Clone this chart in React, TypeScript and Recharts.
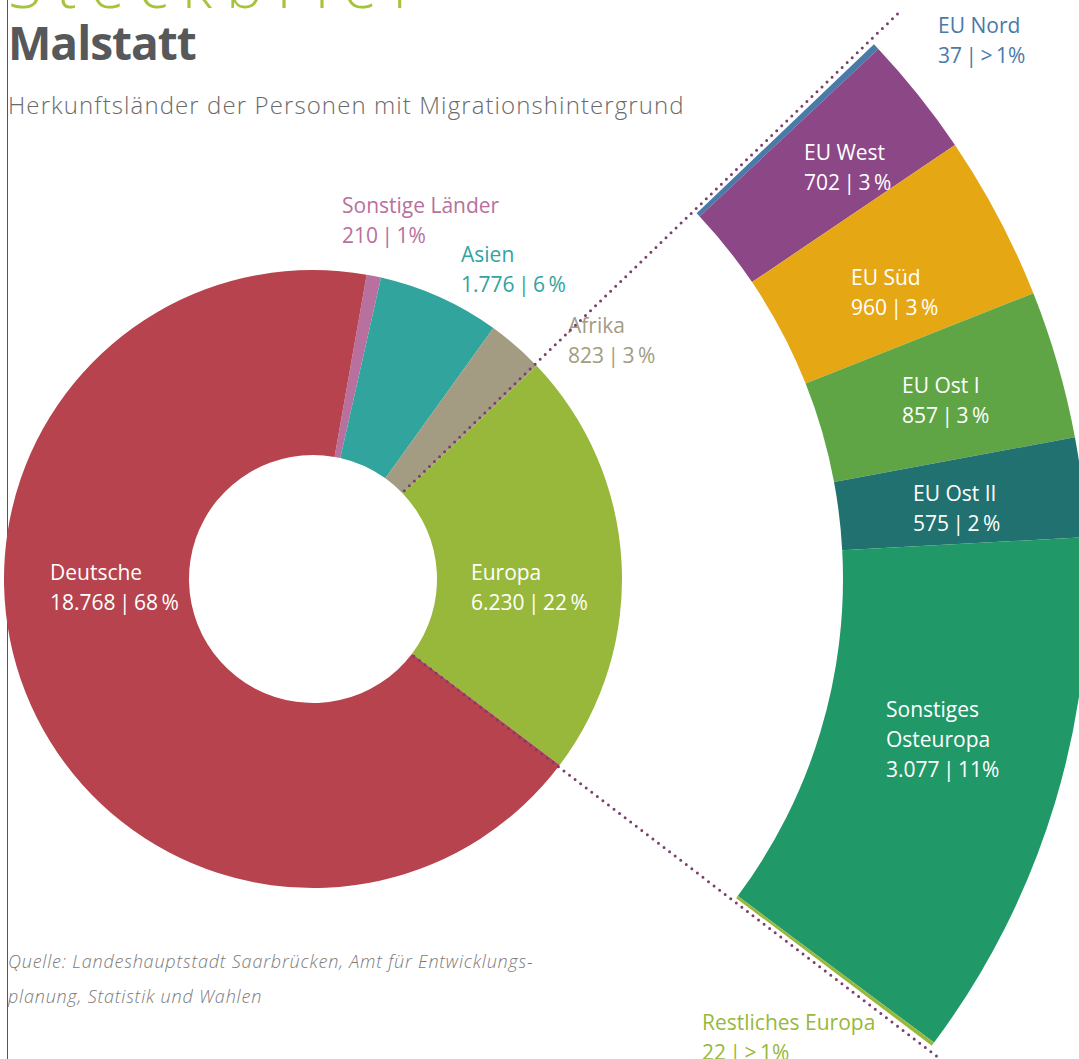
import React from 'react';
import { PieChart, Pie, Cell } from 'recharts';

// ---- data ----
const donutNames = ['Sonstige Länder', 'Asien', 'Afrika', 'Europa', 'Deutsche'];
const donutValues = [210, 1776, 823, 6230, 18768];
const donutPercents = ['1%', '6\u2009%', '3\u2009%', '22\u2009%', '68\u2009%'];

const ringNames = ['EU Nord', 'EU West', 'EU Süd', 'EU Ost I', 'EU Ost II', 'Sonstiges Osteuropa', 'Restliches Europa'];
const ringValues = [37, 702, 960, 857, 575, 3077, 22];
const ringPercents = ['>\u20091%', '3\u2009%', '3\u2009%', '3\u2009%', '2\u2009%', '11%', '>\u20091%'];

// ---- styles ----
const donutColors = ['#b8709e', '#31a49d', '#a39c82', '#98b83c', '#b6434d'];
const donutLabelColors = ['#b8709e', '#31a49d', '#a39c82', '#ffffff', '#ffffff'];
const ringColors = ['#4a7aa8', '#8c4787', '#e6a714', '#5fa545', '#217170', '#219868', '#98b83c'];
const ringLabelColors = ['#4a7aa8', '#fff', '#fff', '#fff', '#fff', '#fff', '#98b83c'];

const donutLabelPos = [
  { x: 342, y: 213 },
  { x: 461, y: 262 },
  { x: 568, y: 333 },
  { x: 471, y: 580 },
  { x: 50, y: 580 },
];
const ringLabelPos = [
  { x: 938, y: 33 },
  { x: 804, y: 160 },
  { x: 851, y: 285 },
  { x: 902, y: 393 },
  { x: 913, y: 501 },
  { x: 886, y: 717 },
  { x: 702, y: 1030 },
];

const FONT = '"Open Sans", sans-serif';
const CX = 313;
const CY = 579;
const START = 80;
const DOT = '#7b3f6e';

const fmt = (v: number) => String(v).replace(/\B(?=(\d{3})+(?!\d))/g, '.');

const donutData = donutNames.map((name, i) => ({ name, value: donutValues[i] }));
const ringData = ringNames.map((name, i) => ({ name, value: ringValues[i] }));

const total = donutValues.reduce((a, b) => a + b, 0);
const europaIdx = donutNames.indexOf('Europa');
const before = donutValues.slice(0, europaIdx).reduce((a, b) => a + b, 0);
const europaStart = START - (360 * before) / total;
const europaEnd = europaStart - (360 * donutValues[europaIdx]) / total;

const RAD = Math.PI / 180;

function lines(name: string) {
  if (name === 'Sonstiges Osteuropa') return ['Sonstiges', 'Osteuropa'];
  return [name];
}

function renderLabel(pos: { x: number; y: number }[], colors: string[], pcts: string[]) {
  return (props: any) => {
    const i = props.index;
    const p = pos[i];
    const nameLines = lines(props.name);
    const all = [...nameLines, `${fmt(props.value)}\u2009|\u2009${pcts[i]}`];
    return (
      <text key={`l${i}`} x={p.x} y={p.y} fill={colors[i]} fontFamily={FONT} fontSize={21} textAnchor="start">
        {all.map((t, k) => (
          <tspan key={k} x={p.x} dy={k === 0 ? 0 : 30}>
            {t}
          </tspan>
        ))}
      </text>
    );
  };
}

const ringLabelBase = renderLabel(ringLabelPos, ringLabelColors, ringPercents);
const ringLabel = (props: any) => {
  const i = props.index;
  const n = ringValues.length;
  const extras: any[] = [];
  const mk = (ang: number, r0: number, r1: number, k: string) => (
    <line
      key={k}
      x1={props.cx + r0 * Math.cos(-ang * RAD)}
      y1={props.cy + r0 * Math.sin(-ang * RAD)}
      x2={props.cx + r1 * Math.cos(-ang * RAD)}
      y2={props.cy + r1 * Math.sin(-ang * RAD)}
      stroke={DOT}
      strokeWidth={3}
      strokeLinecap="round"
      strokeDasharray="0 7"
    />
  );
  if (i === 0) extras.push(mk(props.startAngle + 0.4, 127, 815, 'd0'));
  if (i === n - 1) extras.push(mk(props.endAngle - 0.4, 127, 790, 'd1'));
  return (
    <g key={`rl${i}`}>
      {extras}
      {ringLabelBase(props)}
    </g>
  );
};

export default function App() {
  return (
    <div style={{ position: 'absolute', left: 0, top: 0, width: 1079, height: 1059, background: '#fff', overflow: 'hidden' }}>
      <svg width={1079} height={1059} style={{ position: 'absolute', left: 0, top: 0 }}>
        <line x1={7.5} y1={0} x2={7.5} y2={1059} stroke="#555" strokeWidth={1} />
        <text x={8} y={8} fill="#a6c33c" fontFamily={FONT} fontSize={62} fontWeight={300} letterSpacing={14}>
          Steckbrief
        </text>
        <text x={8} y={60} fill="#57585a" fontFamily={FONT} fontSize={46} fontWeight={700} letterSpacing={-1}>
          Malstatt
        </text>
        <text x={8} y={114} fill="#6a6a6a" fontFamily={FONT} fontSize={24} fontWeight={300} letterSpacing={1.1}>
          Herkunftsländer der Personen mit Migrationshintergrund
        </text>
        <text x={8} y={968} fill="#7a7a7a" fontFamily={FONT} fontSize={18} fontStyle="italic" fontWeight={300} letterSpacing={0.8}>
          Quelle: Landeshauptstadt Saarbrücken, Amt für Entwicklungs-
        </text>
        <text x={8} y={1003} fill="#7a7a7a" fontFamily={FONT} fontSize={18} fontStyle="italic" fontWeight={300} letterSpacing={0.8}>
          planung, Statistik und Wahlen
        </text>
      </svg>
      <div style={{ position: 'absolute', left: 0, top: 0 }}>
        <PieChart width={1079} height={1059} margin={{ top: 0, right: 0, bottom: 0, left: 0 }}>
          <Pie
            data={donutData}
            dataKey="value"
            nameKey="name"
            cx={CX}
            cy={CY}
            innerRadius={124}
            outerRadius={309}
            startAngle={START}
            endAngle={START - 360}
            stroke="none"
            isAnimationActive={false}
            labelLine={false}
            label={renderLabel(donutLabelPos, donutLabelColors, donutPercents)}
          >
            {donutData.map((d, i) => (
              <Cell key={d.name} fill={donutColors[i]} />
            ))}
          </Pie>
          <Pie
            data={ringData}
            dataKey="value"
            nameKey="name"
            cx={CX}
            cy={CY}
            innerRadius={530}
            outerRadius={775}
            startAngle={europaStart}
            endAngle={europaEnd}
            stroke="none"
            isAnimationActive={false}
            labelLine={false}
            label={ringLabel}
          >
            {ringData.map((d, i) => (
              <Cell key={d.name} fill={ringColors[i]} />
            ))}
          </Pie>
        </PieChart>
      </div>
    </div>
  );
}
